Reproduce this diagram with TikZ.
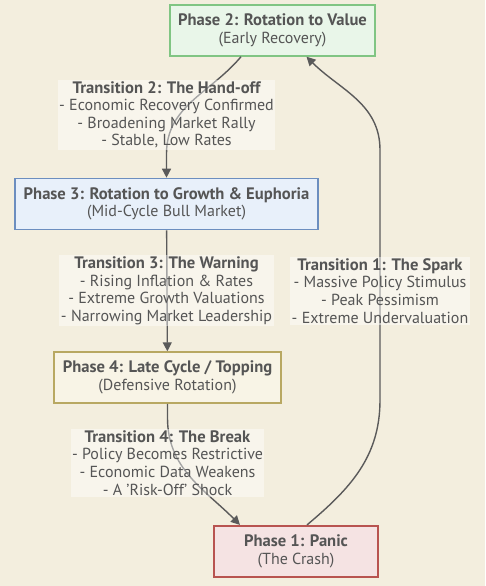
\documentclass[tikz,border=0pt]{standalone}
\usepackage{fontspec}
\setmainfont{PT Sans}
\usetikzlibrary{positioning,calc,arrows.meta}
\definecolor{bgcream}{HTML}{F3EEDE}
\definecolor{textgrey}{HTML}{555555}
\definecolor{linegrey}{HTML}{5A5A5A}
\definecolor{valuefill}{HTML}{E9F6E9}
\definecolor{valueline}{HTML}{80C583}
\definecolor{growthfill}{HTML}{E8F0FA}
\definecolor{growthline}{HTML}{6C8EBF}
\definecolor{topfill}{HTML}{F8F4E6}
\definecolor{topline}{HTML}{B8A862}
\definecolor{panicfill}{HTML}{F5E3E3}
\definecolor{panicline}{HTML}{B85450}
\newcommand{\headline}[1]{{\fontsize{16.6}{17.6}\selectfont\bfseries #1}}

\begin{document}
\begin{tikzpicture}[
    x=1pt, y=1pt,
    font=\fontsize{16}{17.6}\selectfont,
    phase/.style={rectangle, draw, line width=1.6pt, align=center, text=textgrey, inner sep=0pt, minimum height=51pt},
    translabel/.style={align=center, text=textgrey, fill=white, fill opacity=0.45, text opacity=1, inner sep=1.5pt},
    arrow/.style={-{Triangle[length=9pt,width=9pt]}, line width=1.4pt, draw=linegrey}
]

% Background
\fill[bgcream] (0,0) rectangle (485,-586);
\useasboundingbox (0,0) rectangle (485,-586);

% Phases
\node[phase, fill=growthfill, draw=growthline, minimum width=303pt] (p3) at (166.5,-204) {\headline{Phase 3: Rotation to Growth \& Euphoria}\\(Mid-Cycle Bull Market)};
\node[phase, fill=valuefill, draw=valueline, minimum width=205pt, above=121pt of p3, xshift=106pt] (p2) {\headline{Phase 2: Rotation to Value}\\(Early Recovery)};
\node[phase, fill=topfill, draw=topline, minimum width=227pt, below=121pt of p3, xshift=1pt] (p4) {\headline{Phase 4: Late Cycle / Topping}\\(Defensive Rotation)};
\node[phase, fill=panicfill, draw=panicline, minimum width=164pt, below=121pt of p4, xshift=128.5pt] (p1) {\headline{Phase 1: Panic}\\(The Crash)};

% Bends of the long return edge
\coordinate (rlow) at (380,-400);
\coordinate (rhigh) at (380,-150);

% Arrows
\draw[arrow] ([xshift=-31.5pt]p2.south) to[out=-130,in=90] ($(p3.north)+(0,24)$) -- (p3.north);
\draw[arrow] (p3) -- (p4);
\draw[arrow] (p4.south) -- ++(0,-14) to[out=-90,in=135] ([xshift=-56pt]p1.north);
\draw[arrow] ([xshift=11pt]p1.north) to[out=40,in=-90] (rlow) -- (rhigh) to[out=90,in=-45] ([xshift=34pt]p2.south);

% Transition labels
\coordinate (m2) at ($(p2.south)!0.5!(p3.north)$);
\coordinate (m3) at ($(p3.south)!0.5!(p4.north)$);
\coordinate (m4) at ($(p4.south)!0.5!(p1.north)$);
\node[translabel] (t2) at ([yshift=2.5pt]m2 -| p3) {\headline{Transition 2: The Hand-off}\\- Economic Recovery Confirmed\\- Broadening Market Rally\\- Stable, Low Rates};
\node[translabel] (t3) at (m3 -| p3) {\headline{Transition 3: The Warning}\\- Rising Inflation \& Rates\\- Extreme Growth Valuations\\- Narrowing Market Leadership};
\node[translabel] (t1) at (m3 -| rlow) {\headline{Transition 1: The Spark}\\- Massive Policy Stimulus\\- Peak Pessimism\\- Extreme Undervaluation};
\node[translabel] (t4) at ([yshift=1.5pt]m4 -| p4) {\headline{Transition 4: The Break}\\- Policy Becomes Restrictive\\- Economic Data Weakens\\- A {\char"27}Risk-Off{\char"27} Shock};

\end{tikzpicture}
\end{document}
